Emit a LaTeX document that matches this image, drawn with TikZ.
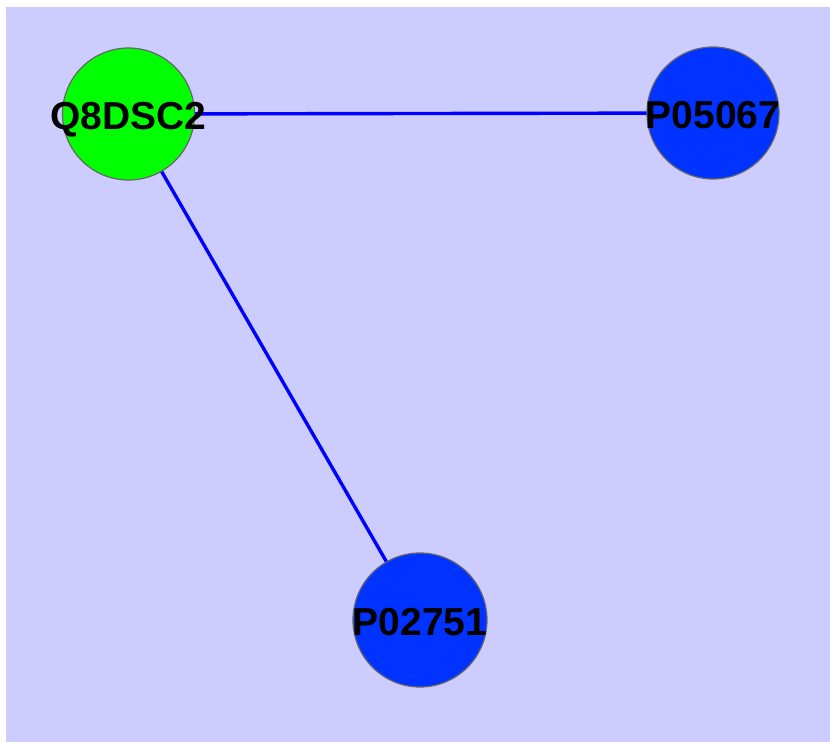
\documentclass[tikz,border=0pt]{standalone}
\usepackage{fontspec}
\setmainfont{Liberation Sans}
\definecolor{canvas}{HTML}{CCCCFF}
\definecolor{hubgreen}{HTML}{00FF00}
\definecolor{nodeblue}{HTML}{0033FF}
\definecolor{edgeblue}{HTML}{0000FF}
\definecolor{rimgray}{HTML}{666666}
\newcommand{\plabel}[1]{\raisebox{-15.5pt}[0pt][0pt]{\makebox[0pt][c]{#1}}}
\begin{document}
\begin{tikzpicture}[x=1pt,y=-1pt,
  protein/.style={circle,draw=rimgray,line width=1.2pt,minimum size=132pt,inner sep=0pt,
    font=\fontsize{39}{39}\selectfont\bfseries,text=black},
  link/.style={edgeblue,line width=3.4pt}]
  \useasboundingbox (0,0) rectangle (830,742);
  \fill[canvas] (6,7) rectangle (830,742);
  % interaction edges first, so the nodes sit on top
  \coordinate (q) at (128.5,114);
  \coordinate (a) at (713,113);
  \coordinate (b) at (420,620);
  \draw[link] (q) -- (a);
  \draw[link] (q) -- (b);
  \node[protein,fill=hubgreen] (Q8DSC2) at (q) {\plabel{Q8DSC2}};
  \node[protein,fill=nodeblue] (P05067) at (a) {\plabel{P05067}};
  \node[protein,fill=nodeblue,minimum size=134pt] (P02751) at (b) {\plabel{P02751}};
\end{tikzpicture}
\end{document}
